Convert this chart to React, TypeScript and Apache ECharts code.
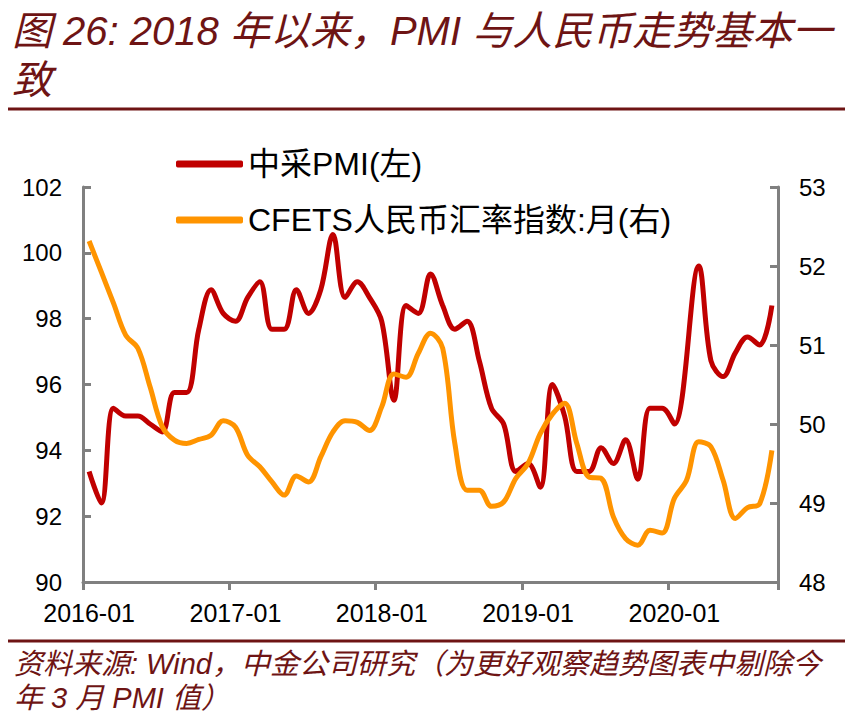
import React, { useEffect, useRef } from "react";
import * as echarts from "echarts";

const months = [
  "2016-01","2016-02","2016-03","2016-04","2016-05","2016-06","2016-07","2016-08","2016-09","2016-10","2016-11","2016-12",
  "2017-01","2017-02","2017-03","2017-04","2017-05","2017-06","2017-07","2017-08","2017-09","2017-10","2017-11","2017-12",
  "2018-01","2018-02","2018-03","2018-04","2018-05","2018-06","2018-07","2018-08","2018-09","2018-10","2018-11","2018-12",
  "2019-01","2019-02","2019-03","2019-04","2019-05","2019-06","2019-07","2019-08","2019-09","2019-10","2019-11","2019-12",
  "2020-01","2020-02","2020-03","2020-04","2020-05","2020-06","2020-07","2020-08","2020-09",
];

// 中采PMI (plotted against the right-hand scale); Feb 2020 removed
const pmi = [
  49.4, 49.0, 50.2, 50.1, 50.1, 50.0, 49.9, 50.4, 50.4, 51.2, 51.7, 51.4,
  51.3, 51.6, 51.8, 51.2, 51.2, 51.7, 51.4, 51.7, 52.4, 51.6, 51.8, 51.6,
  51.3, 50.3, 51.5, 51.4, 51.9, 51.5, 51.2, 51.3, 50.8, 50.2, 50.0, 49.4,
  49.5, 49.2, 50.5, 50.1, 49.4, 49.4, 49.7, 49.5, 49.8, 49.3, 50.2, 50.2,
  50.0, null, 52.0, 50.8, 50.6, 50.9, 51.1, 51.0, 51.5,
];

// CFETS 人民币汇率指数 (plotted against the left-hand scale)
const cfets = [
  100.36, 99.42, 98.47, 97.5, 97.1, 95.93, 94.72, 94.31, 94.21, 94.33, 94.46, 94.9,
  94.71, 93.85, 93.5, 93.04, 92.64, 93.22, 93.04, 93.8, 94.56, 94.9, 94.85, 94.6,
  95.32, 96.32, 96.22, 96.95, 97.56, 97.1, 94.2, 92.79, 92.79, 92.3, 92.43, 93.15,
  93.6, 94.51, 95.1, 95.43, 94.21, 93.19, 93.15, 91.98, 91.32, 91.12, 91.57, 91.49,
  92.54, 93.09, 94.26, 94.11, 93.09, 91.93, 92.26, 92.38, 94.0,
];

const seriesNames = ["中采PMI(左)", "CFETS人民币汇率指数:月(右)"];
const titleLines = ["图 26: 2018 年以来，PMI 与人民币走势基本一", "致"];
const footerLines = [
  "资料来源: Wind，中金公司研究（为更好观察趋势图表中剔除今",
  "年 3 月 PMI 值）",
];

export default function App() {
  const ref = useRef<HTMLDivElement>(null);
  useEffect(() => {
    const chart = echarts.init(ref.current!, null, { renderer: "svg" });
    const font = "'Liberation Sans', Arial, 'Noto Sans CJK SC', sans-serif";
    const dark = "#6E1414";
    const gray = "#808080";
    chart.setOption({
      animation: false,
      backgroundColor: "#fff",
      grid: { left: 83, right: 77, top: 187, bottom: 146, containLabel: false },
      legend: {
        orient: "vertical",
        left: 176,
        top: 147,
        padding: 0,
        itemWidth: 67,
        itemHeight: 7,
        itemGap: 22,
        icon: "roundRect",
        selectedMode: false,
        textStyle: { fontSize: 32, color: "#000", fontFamily: font, lineHeight: 34 },
        data: seriesNames,
      },
      xAxis: {
        type: "category",
        data: months,
        boundaryGap: true,
        axisLine: { lineStyle: { color: gray, width: 3 } },
        axisTick: { show: true, interval: 11, length: 8, inside: false, lineStyle: { color: gray, width: 3 } },
        axisLabel: { interval: 11, fontSize: 25, color: "#000", margin: 18, fontFamily: font },
        splitLine: { show: false },
      },
      yAxis: [
        {
          type: "value",
          position: "left",
          min: 90,
          max: 102,
          interval: 2,
          axisLine: { show: true, lineStyle: { color: gray, width: 3 } },
          axisTick: { show: true, inside: true, length: 8, lineStyle: { color: gray, width: 3 } },
          axisLabel: { fontSize: 24, color: "#000", margin: 21, fontFamily: font },
          splitLine: { show: false },
        },
        {
          type: "value",
          position: "right",
          min: 48,
          max: 53,
          interval: 1,
          axisLine: { show: true, lineStyle: { color: gray, width: 3 } },
          axisTick: { show: true, inside: true, length: 8, lineStyle: { color: gray, width: 3 } },
          axisLabel: { fontSize: 24, color: "#000", margin: 21, fontFamily: font },
          splitLine: { show: false },
        },
      ],
      series: [
        {
          name: seriesNames[0],
          type: "line",
          yAxisIndex: 1,
          data: pmi,
          connectNulls: true,
          smooth: 0.35,
          showSymbol: false,
          symbol: "none",
          lineStyle: { color: "#C00000", width: 5 },
          itemStyle: { color: "#C00000" },
        },
        {
          name: seriesNames[1],
          type: "line",
          yAxisIndex: 0,
          data: cfets,
          smooth: 0.35,
          showSymbol: false,
          symbol: "none",
          lineStyle: { color: "#FF9400", width: 5 },
          itemStyle: { color: "#FF9400" },
        },
      ],
      graphic: [
        {
          type: "text",
          x: 12,
          y: 31,
          style: {
            text: titleLines[0],
            fill: dark,
            fontSize: 40,
            fontStyle: "italic",
            fontFamily: font,
            verticalAlign: "middle",
          },
        },
        {
          type: "text",
          x: 12,
          y: 80,
          style: {
            text: titleLines[1],
            fill: dark,
            fontSize: 40,
            fontStyle: "italic",
            fontFamily: font,
            verticalAlign: "middle",
          },
        },
        {
          type: "line",
          shape: { x1: 8, y1: 109, x2: 845, y2: 109 },
          style: { stroke: dark, lineWidth: 3 },
        },
        {
          type: "line",
          shape: { x1: 8, y1: 641, x2: 845, y2: 641 },
          style: { stroke: dark, lineWidth: 3 },
        },
        {
          type: "text",
          x: 14,
          y: 664,
          style: {
            text: footerLines[0],
            fill: dark,
            fontSize: 29,
            fontStyle: "italic",
            fontFamily: font,
            verticalAlign: "middle",
          },
        },
        {
          type: "text",
          x: 14,
          y: 698,
          style: {
            text: footerLines[1],
            fill: dark,
            fontSize: 29,
            fontStyle: "italic",
            fontFamily: font,
            verticalAlign: "middle",
          },
        },
      ],
    });
    return () => chart.dispose();
  }, []);
  return (
    <div
      ref={ref}
      style={{ position: "fixed", left: 0, top: 0, width: 855, height: 728, background: "#fff" }}
    />
  );
}
